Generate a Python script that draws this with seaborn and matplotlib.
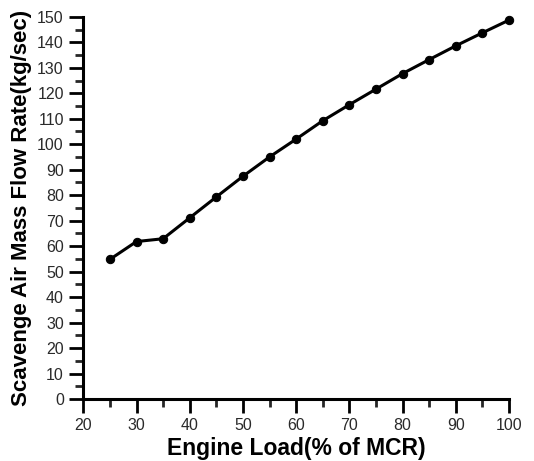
import matplotlib
matplotlib.use("Agg")
import matplotlib.pyplot as plt
from matplotlib.ticker import MultipleLocator
import seaborn as sns
import pandas as pd

# Data
engine_load = [25, 30, 35, 40, 45, 50, 55, 60, 65, 70, 75, 80, 85, 90, 95, 100]
air_flow = [54.8, 61.8, 62.9, 71.1, 79.3, 87.4, 95.0, 102.0, 109.2, 115.5,
            121.6, 127.7, 133.2, 138.6, 143.7, 148.7]

df = pd.DataFrame({"load": engine_load, "flow": air_flow})

sns.set_style("ticks")
plt.rcParams['font.family'] = ['Liberation Sans', 'DejaVu Sans']

fig = plt.figure(figsize=(5.34, 4.61), dpi=100)
ax = fig.add_axes([0.156, 0.1345, 0.797, 0.829])

sns.lineplot(data=df, x="load", y="flow", ax=ax, color="black", linewidth=2.2,
             marker="o", markersize=6, markeredgecolor="black", clip_on=False)

ax.set_xlim(20, 100)
ax.set_ylim(0, 150)
ax.xaxis.set_major_locator(MultipleLocator(10))
ax.xaxis.set_minor_locator(MultipleLocator(5))
ax.yaxis.set_major_locator(MultipleLocator(10))
ax.yaxis.set_minor_locator(MultipleLocator(5))

ax.tick_params(which="major", direction="out", length=10, width=2, labelsize=11.5, colors="black")
ax.tick_params(which="minor", direction="out", length=5.5, width=2)
ax.tick_params(axis="x", pad=3.5)
ax.tick_params(axis="y", pad=4)
for label in ax.get_xticklabels() + ax.get_yticklabels():
    label.set_color("#2a2a2a")

sns.despine(ax=ax)
for side in ["left", "bottom"]:
    ax.spines[side].set_linewidth(2.2)
    ax.spines[side].set_color("black")

ax.set_xlabel("Engine Load(% of MCR)", fontsize=16.5, fontweight="heavy",
              color="black", labelpad=3)
ax.set_ylabel("Scavenge Air Mass Flow Rate(kg/sec)", fontsize=16, fontweight="heavy",
              color="black", labelpad=4)

fig.savefig("out.png", dpi=100)
